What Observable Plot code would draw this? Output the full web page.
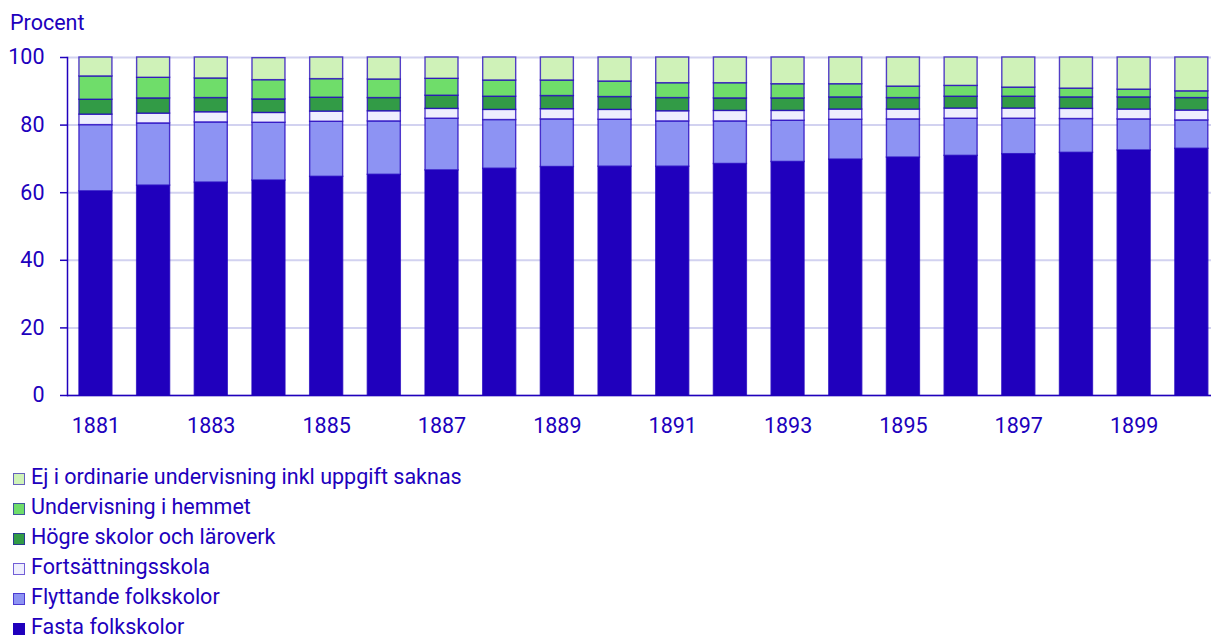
<!DOCTYPE html>
<html>
<head>
<meta charset="utf-8">
<script src="https://cdn.jsdelivr.net/npm/d3@7"></script>
<script src="https://cdn.jsdelivr.net/npm/@observablehq/plot@0.6"></script>
<style>
  html, body { margin: 0; padding: 0; background: #fff; }
  body { font-family: Roboto, "Noto Sans", sans-serif; color: #2000bd; width: 1211px; height: 635px; position: relative; overflow: hidden; }
  #unit { position: absolute; left: 10px; top: 13px; font-size: 21.5px; line-height: 20px; }
  #chart { position: absolute; left: 0; top: 0; }
  #legend { position: absolute; left: 13px; top: 462px; font-size: 21.5px; }
  .item { height: 30px; line-height: 30px; white-space: nowrap; }
  .sw { display: inline-block; width: 10px; height: 10px; border: 1px solid rgba(32,0,189,0.6); margin-right: 6px; vertical-align: -1px; }
</style>
</head>
<body>
<div id="chart"></div>
<div id="unit">Procent</div>
<div id="legend"></div>
<script>
const years = [1881,1882,1883,1884,1885,1886,1887,1888,1889,1890,1891,1892,1893,1894,1895,1896,1897,1898,1899,1900];
const xTicks = [1881,1883,1885,1887,1889,1891,1893,1895,1897,1899];
const yTicks = [0,20,40,60,80,100];

const seriesNames = [
  "Fasta folkskolor",
  "Flyttande folkskolor",
  "Fortsättningsskola",
  "Högre skolor och läroverk",
  "Undervisning i hemmet",
  "Ej i ordinarie undervisning inkl uppgift saknas"
];
const seriesColors = ["#2000bd", "#8d93f3", "#eeeefe", "#329b46", "#6fdd6a", "#cff2b8"];

const fasta  = [60.4,62.1,63.0,63.6,64.7,65.3,66.6,67.1,67.6,67.7,67.7,68.5,69.1,69.8,70.4,70.9,71.4,71.8,72.5,73.0];
const flytt  = [19.6,18.4,17.8,17.1,16.3,15.8,15.3,14.4,14.1,13.9,13.4,12.6,12.2,11.8,11.3,11.0,10.5,10.0,9.2,8.4];
const fort   = [3.1,2.9,3.0,2.9,3.0,3.0,2.9,3.0,3.0,2.9,3.0,3.1,2.9,3.0,2.9,3.0,3.0,3.0,2.9,2.9];
const hogre  = [4.4,4.5,4.2,4.0,4.1,3.9,3.9,3.9,3.9,3.8,3.9,3.7,3.7,3.6,3.4,3.5,3.5,3.4,3.6,3.7];
const hemmet = [6.9,6.1,5.8,5.7,5.5,5.5,5.0,4.8,4.6,4.6,4.4,4.5,4.2,3.9,3.4,3.2,2.7,2.6,2.3,2.0];
const ej     = [5.6,6.0,6.2,6.5,6.4,6.5,6.3,6.8,6.8,7.1,7.6,7.6,7.9,7.9,8.6,8.4,8.9,9.2,9.5,10.0];

const seriesValues = [fasta, flytt, fort, hogre, hemmet, ej];
const data = [];
seriesNames.forEach((s, i) => {
  years.forEach((yr, j) => data.push({year: yr, series: s, value: seriesValues[i][j]}));
});

const textColor = "#2000bd";

const chart = Plot.plot({
  width: 1211,
  height: 445,
  marginTop: 57,
  marginBottom: 50,
  marginLeft: 67,
  marginRight: 0,
  style: {fontFamily: "Roboto, sans-serif", fontSize: "21.5px", color: textColor, background: "white"},
  x: {type: "band", domain: years, paddingInner: 0.428, paddingOuter: 0.131, align: 0.79, round: false, label: null},
  y: {domain: [0, 100], label: null},
  color: {domain: seriesNames, range: seriesColors},
  marks: [
    Plot.gridY(yTicks, {stroke: "#d2d2f0", strokeOpacity: 1, strokeWidth: 2}),
    Plot.barY(data, {
      x: "year", y: "value", fill: "series",
      order: seriesNames,
      stroke: "#2000bd", strokeWidth: 1.4, strokeOpacity: 0.75
    }),
    Plot.axisX({ticks: xTicks, tickSize: 0, tickPadding: 22, tickFormat: d => String(d), label: null}),
    Plot.axisY({ticks: yTicks, tickSize: 7, tickPadding: 16, label: null, strokeWidth: 1.5}),
    Plot.frame({anchor: "left", stroke: textColor, strokeWidth: 1.5}),
    Plot.ruleY([0], {stroke: textColor, strokeWidth: 1.5})
  ]
});
document.getElementById("chart").appendChild(chart);

const legend = document.getElementById("legend");
for (let i = seriesNames.length - 1; i >= 0; i--) {
  const row = document.createElement("div");
  row.className = "item";
  const sw = document.createElement("span");
  sw.className = "sw";
  sw.style.background = seriesColors[i];
  row.appendChild(sw);
  row.appendChild(document.createTextNode(seriesNames[i]));
  legend.appendChild(row);
}
</script>
</body>
</html>
